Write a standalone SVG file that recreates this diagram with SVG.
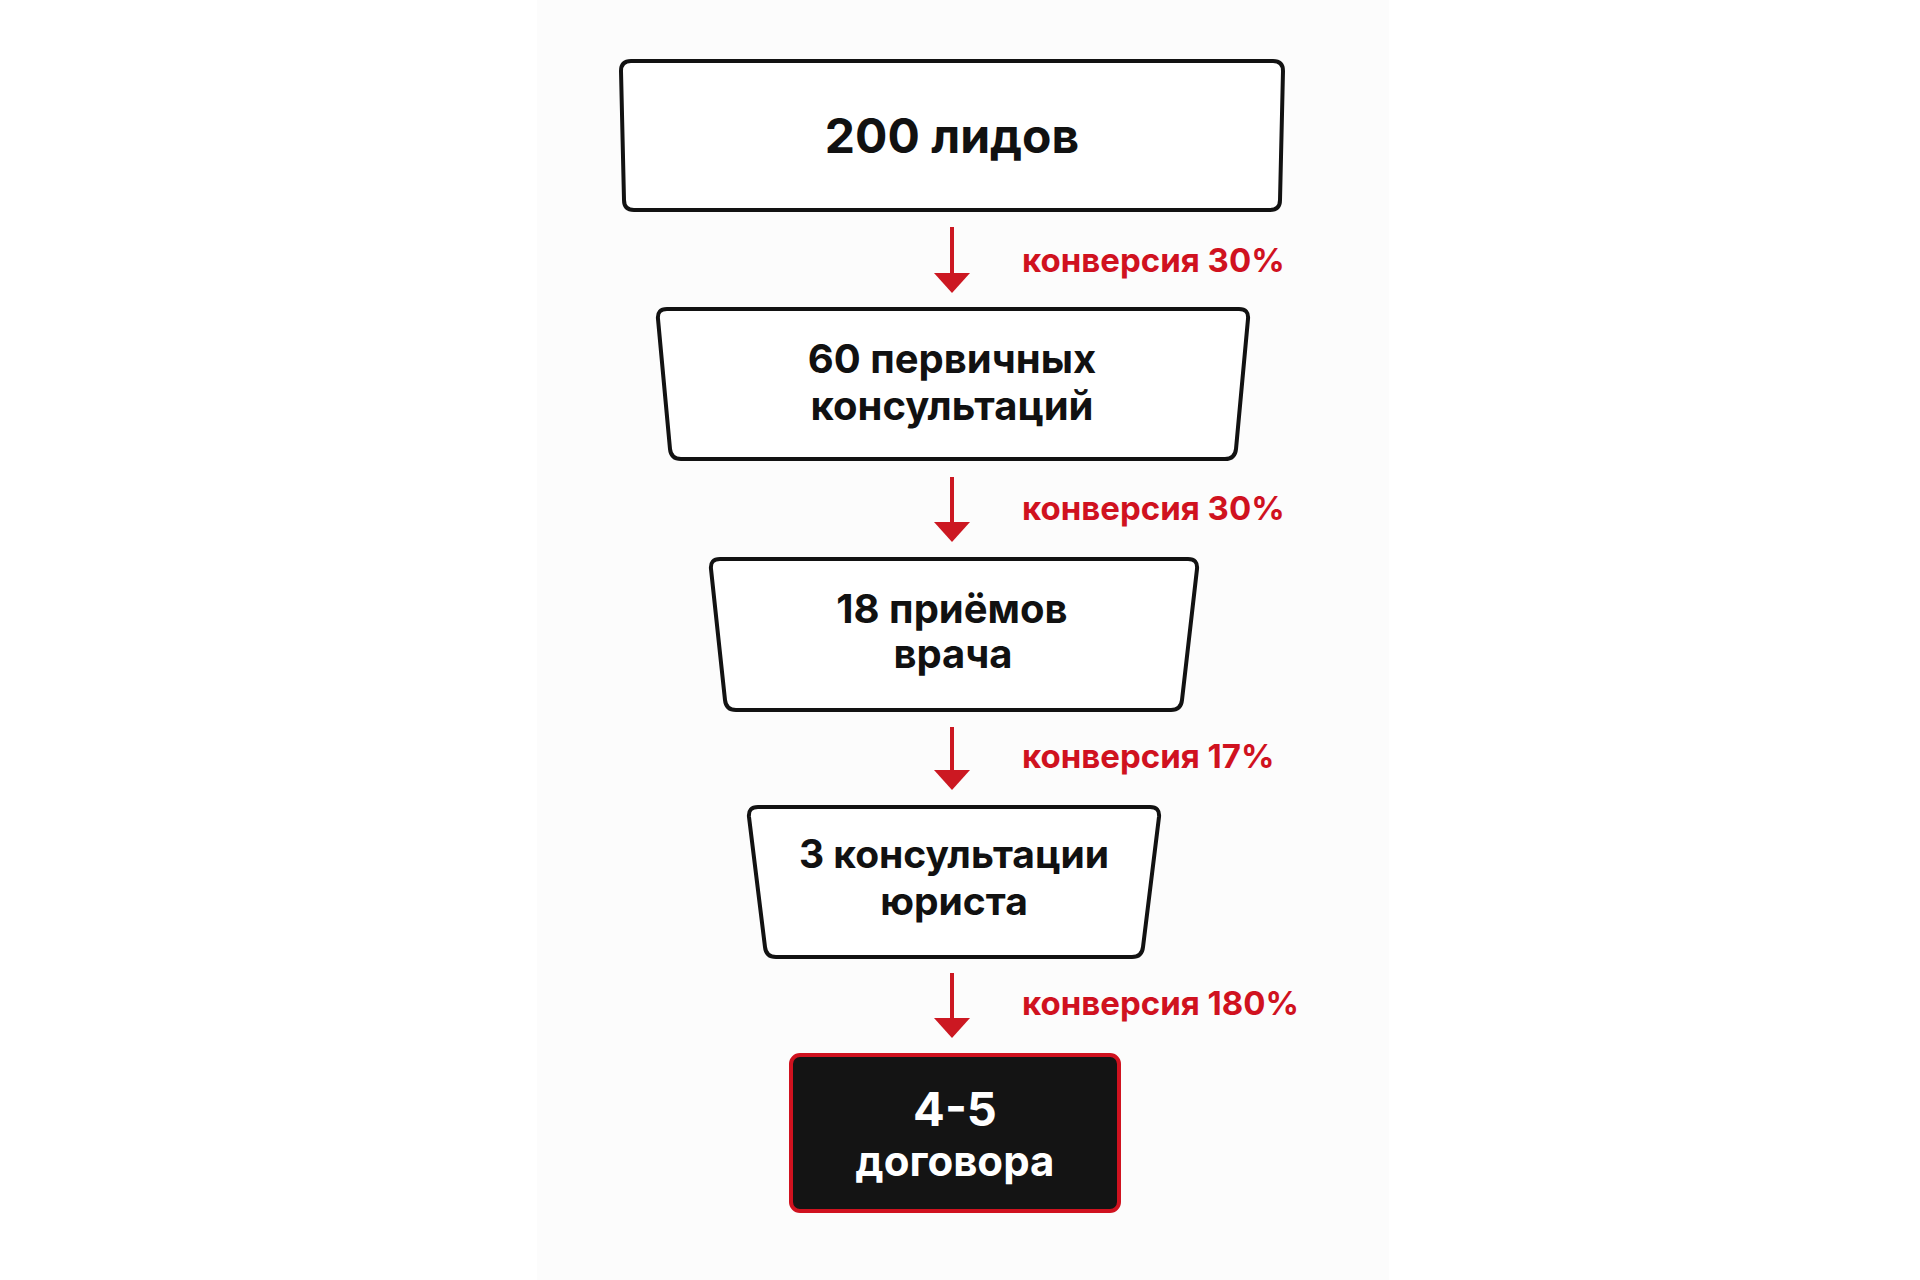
<svg xmlns="http://www.w3.org/2000/svg" width="1920" height="1280" viewBox="0 0 1920 1280">
<style>
.box{fill:#ffffff;stroke:#121212;stroke-width:4;stroke-linejoin:round}
.t{font-family:Inter,"Noto Sans","DejaVu Sans",sans-serif;font-weight:700;fill:#111111;text-anchor:middle}
.lbl{font-family:Inter,"Noto Sans","DejaVu Sans",sans-serif;font-weight:700;fill:#d0121f;font-size:33px}
.arr{stroke:#cc1822;stroke-width:4;fill:none}
</style>
<defs>
<marker id="ah" viewBox="0 -18 20 36" refX="14" refY="0" markerWidth="20" markerHeight="36" markerUnits="userSpaceOnUse" orient="auto">
<path d="M0,-18 L20,0 L0,18 Z" fill="#cc1822"/>
</marker>
</defs>
<rect x="0" y="0" width="1920" height="1280" fill="#ffffff"/>
<rect x="537" y="0" width="852" height="1280" fill="#fcfcfc"/>

<g id="connectors">
<line class="arr" x1="952" y1="227" x2="952" y2="287" marker-end="url(#ah)"/>
<line class="arr" x1="952" y1="477" x2="952" y2="536" marker-end="url(#ah)"/>
<line class="arr" x1="952" y1="727" x2="952" y2="784" marker-end="url(#ah)"/>
<line class="arr" x1="952" y1="973" x2="952" y2="1032" marker-end="url(#ah)"/>
<text class="lbl" x="1022" y="272">конверсия 30%</text>
<text class="lbl" x="1022" y="520">конверсия 30%</text>
<text class="lbl" x="1022" y="768">конверсия 17%</text>
<text class="lbl" x="1022" y="1015">конверсия 180%</text>
</g>

<g id="node-leads">
<path class="box" d="M631,61 H1273 Q1283,61 1283,71 L1280,200 Q1280,210 1270,210 H634 Q624,210 624,200 L621,71 Q621,61 631,61 Z"/>
<text class="t" x="952" y="153" font-size="48">200 лидов</text>
</g>

<g id="node-primary">
<path class="box" d="M667,309 H1239 Q1249,309 1248,319 L1236,449 Q1235,459 1225,459 H681 Q671,459 670,449 L658,319 Q657,309 667,309 Z"/>
<text class="t" font-size="40"><tspan x="952" y="373">60 первичных</tspan><tspan x="952" y="420">консультаций</tspan></text>
</g>

<g id="node-doctor">
<path class="box" d="M720,559 H1188 Q1198,559 1197,569 L1182,700 Q1181,710 1171,710 H736 Q726,710 725,700 L711,569 Q710,559 720,559 Z"/>
<text class="t" font-size="40"><tspan x="952" y="623">18 приёмов</tspan><tspan x="953" y="668">врача</tspan></text>
</g>

<g id="node-lawyer">
<path class="box" d="M758,807 H1150 Q1160,807 1159,817 L1143,947 Q1142,957 1132,957 H776 Q766,957 765,947 L749,817 Q748,807 758,807 Z"/>
<text class="t" font-size="39"><tspan x="954" y="868">3 консультации</tspan><tspan x="954" y="915">юриста</tspan></text>
</g>

<g id="node-contracts">
<rect x="791" y="1055" width="328" height="156" rx="9" fill="#141414" stroke="#d0121f" stroke-width="4"/>
<text class="t" style="fill:#ffffff"><tspan x="955" y="1126" font-size="47">4-5</tspan><tspan x="955" y="1176" font-size="42">договора</tspan></text>
</g>
</svg>
